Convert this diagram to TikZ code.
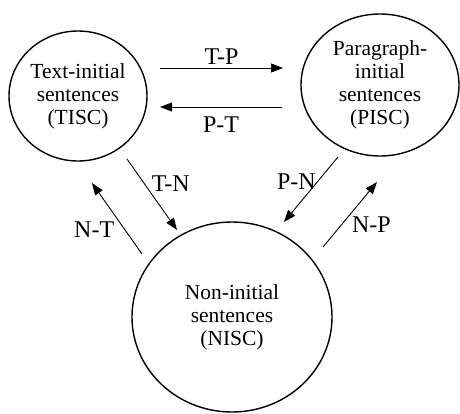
\documentclass[tikz,border=0pt]{standalone}
\usepackage{fontspec}
\setmainfont{Liberation Serif}
\usetikzlibrary{
  arrows.meta,
  shapes.geometric,
  positioning
}
\tikzset{
  scnode/.style={
    draw, ellipse, line width=1.4pt, inner sep=0pt, align=center,
    font=\fontsize{21.5}{23}\selectfont
  },
  trans/.style={-{Triangle[length=12pt, width=9pt]}, line width=0.9pt},
  tlabel/.style={font=\fontsize{24}{26}\selectfont}
}

\begin{document}
\begin{tikzpicture}[x=1pt, y=-1pt]
  \useasboundingbox (0,0) rectangle (460,413);
  \node[scnode, minimum width=138pt, minimum height=130pt] (tisc) at (78,96)
    {Text-initial\\sentences\\(TISC)};
  \node[scnode, minimum width=158pt, minimum height=142pt] (pisc) at (380,85)
    {Paragraph-\\initial\\sentences\\(PISC)};
  \node[scnode, minimum width=200pt, minimum height=190pt] (nisc) at (232,317)
    {Non-initial\\sentences\\(NISC)};

  \coordinate (tp-s) at (160,68);  \coordinate (tp-e) at (283,68);
  \coordinate (pt-s) at (282,107); \coordinate (pt-e) at (160,107);
  \coordinate (tn-s) at (127,159); \coordinate (tn-e) at (177,230);
  \coordinate (nt-s) at (142,254); \coordinate (nt-e) at (92,183);
  \coordinate (pn-s) at (338,157); \coordinate (pn-e) at (284,222);
  \coordinate (np-s) at (323,247); \coordinate (np-e) at (377,182);

  \draw[trans] (tp-s) -- node[tlabel, above]{T-P} (tp-e);
  \draw[trans] (pt-s) -- node[tlabel, below=6pt]{P-T} (pt-e);
  \draw[trans] (tn-s) -- node[tlabel, pos=0.34, right=4pt]{T-N} (tn-e);
  \draw[trans] (nt-s) -- node[tlabel, pos=0.34, left=7pt]{N-T} (nt-e);
  \draw[trans] (pn-s) -- node[tlabel, pos=0.38, left=-2pt]{P-N} (pn-e);
  \draw[trans] (np-s) -- node[tlabel, pos=0.34, right=7pt]{N-P} (np-e);
\end{tikzpicture}
\end{document}
